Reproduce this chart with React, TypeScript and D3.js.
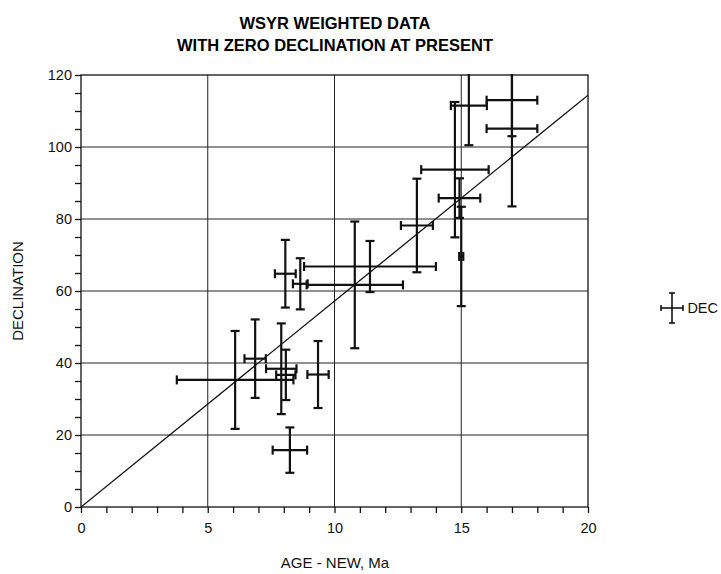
import { useEffect, useRef } from 'react'
import * as d3 from 'd3'

// age (Ma), declination, age error, declination error
const ages = [6.08, 6.87, 7.9, 8.08, 8.24, 9.35, 8.06, 8.65, 10.8, 11.4, 13.25, 14.75, 14.93, 15.0, 15.3, 17.0, 17.0]
const decs = [35.3, 41.2, 38.4, 36.7, 15.8, 36.8, 64.8, 62.0, 61.7, 66.8, 78.2, 93.7, 85.8, 69.6, 111.5, 113.0, 105.1]
const ageErr = [2.3, 0.42, 0.6, 0.38, 0.68, 0.42, 0.41, 0.29, 1.9, 2.6, 0.63, 1.33, 0.82, 0.08, 0.71, 1.0, 1.0]
const decErr = [13.6, 10.9, 12.6, 7.0, 6.3, 9.3, 9.4, 7.1, 17.6, 7.1, 13.0, 18.8, 5.5, 13.8, 11.0, 10.0, 21.6]

const fitSlope = 5.72
const xTicks = [0, 5, 10, 15, 20]
const yTicks = [0, 20, 40, 60, 80, 100, 120]
const titleLines = ['WSYR WEIGHTED DATA', 'WITH ZERO DECLINATION AT PRESENT']

const W = 721
const H = 574
const FONT = 'Liberation Sans, Arial, Helvetica, sans-serif'

function App() {
  const svgRef = useRef<SVGSVGElement>(null)

  useEffect(() => {
    if (!svgRef.current) return
    const svg = d3.select(svgRef.current)
    svg.selectAll('*').remove()

    const left = 81
    const right = 588
    const top = 75
    const bottom = 507

    const x = d3.scaleLinear().domain([0, 20]).range([left, right])
    const y = d3.scaleLinear().domain([0, 120]).range([bottom, top])

    svg.append('defs').append('clipPath').attr('id', 'plot-clip')
      .append('rect').attr('x', left).attr('y', top - 1).attr('width', right - left).attr('height', bottom - top + 2)

    // title
    svg.append('g').selectAll('text').data(titleLines).enter().append('text')
      .attr('x', 335).attr('y', (d, i) => 29 + i * 22)
      .attr('text-anchor', 'middle')
      .attr('font-family', FONT).attr('font-weight', 'bold').attr('font-size', 16.5)
      .text((d) => d)

    // grid
    const grid = svg.append('g').attr('stroke', '#222').attr('stroke-width', 1)
    grid.selectAll('.hg').data(yTicks.slice(1, -1)).enter().append('line')
      .attr('x1', left).attr('x2', right).attr('y1', (d) => y(d)).attr('y2', (d) => y(d))
    grid.selectAll('.vg').data(xTicks.slice(1, -1)).enter().append('line')
      .attr('y1', top).attr('y2', bottom).attr('x1', (d) => x(d)).attr('x2', (d) => x(d))

    // frame
    svg.append('rect').attr('x', left).attr('y', top).attr('width', right - left).attr('height', bottom - top)
      .attr('fill', 'none').attr('stroke', '#111').attr('stroke-width', 1.3)

    // axes
    const xAxis = svg.append('g').attr('transform', `translate(0,${bottom})`)
      .call(d3.axisBottom(x).tickValues(d3.range(0, 21, 1)).tickSize(6).tickFormat((d) => (xTicks.includes(+d) ? String(d) : '')))
    xAxis.select('.domain').remove()
    xAxis.selectAll('line').attr('stroke', '#111').attr('stroke-width', 1.3)
    xAxis.selectAll('text').attr('font-family', FONT).attr('font-size', 14.5).attr('fill', '#111').attr('dy', '1.2em')

    const yAxis = svg.append('g').attr('transform', `translate(${left},0)`)
      .call(d3.axisLeft(y).tickValues(d3.range(0, 121, 5)).tickSize(6).tickFormat((d) => (yTicks.includes(+d) ? String(d) : '')))
    yAxis.select('.domain').remove()
    yAxis.selectAll('line').attr('stroke', '#111').attr('stroke-width', 1.3)
    yAxis.selectAll('text').attr('font-family', FONT).attr('font-size', 14.5).attr('fill', '#111').attr('x', -9)

    // axis titles
    svg.append('text').attr('x', 335).attr('y', 568).attr('text-anchor', 'middle')
      .attr('font-family', FONT).attr('font-size', 15).attr('fill', '#111').text('AGE - NEW, Ma')
    svg.append('text').attr('transform', `translate(23,${(top + bottom) / 2}) rotate(-90)`).attr('text-anchor', 'middle')
      .attr('font-family', FONT).attr('font-size', 15).attr('fill', '#111').text('DECLINATION')

    // regression line
    const plot = svg.append('g').attr('clip-path', 'url(#plot-clip)')
    plot.append('path')
      .datum([0, 20])
      .attr('d', d3.line<number>().x((d) => x(d)).y((d) => y(d * fitSlope)))
      .attr('fill', 'none').attr('stroke', '#111').attr('stroke-width', 1.3)

    // error bars
    const cap = 4.5
    const bars = plot.selectAll('.eb').data(ages.map((a, i) => i)).enter().append('g')
      .attr('stroke', '#111').attr('stroke-width', 2.2)
    bars.append('line')
      .attr('x1', (i) => x(ages[i] - ageErr[i])).attr('x2', (i) => x(ages[i] + ageErr[i]))
      .attr('y1', (i) => y(decs[i])).attr('y2', (i) => y(decs[i]))
    bars.append('line')
      .attr('x1', (i) => x(ages[i])).attr('x2', (i) => x(ages[i]))
      .attr('y1', (i) => y(decs[i] - decErr[i])).attr('y2', (i) => y(decs[i] + decErr[i]))
    ;[-1, 1].forEach((s) => {
      bars.append('line')
        .attr('x1', (i) => x(ages[i] + s * ageErr[i])).attr('x2', (i) => x(ages[i] + s * ageErr[i]))
        .attr('y1', (i) => y(decs[i]) - cap).attr('y2', (i) => y(decs[i]) + cap)
      bars.append('line')
        .attr('x1', (i) => x(ages[i]) - cap).attr('x2', (i) => x(ages[i]) + cap)
        .attr('y1', (i) => y(decs[i] + s * decErr[i])).attr('y2', (i) => y(decs[i] + s * decErr[i]))
    })

    // legend
    const lg = svg.append('g').attr('transform', 'translate(672,308)').attr('stroke', '#111').attr('stroke-width', 1.6)
    lg.append('line').attr('x1', -11).attr('x2', 11).attr('y1', 0).attr('y2', 0)
    lg.append('line').attr('x1', 0).attr('x2', 0).attr('y1', -15).attr('y2', 15)
    lg.append('line').attr('x1', -11).attr('x2', -11).attr('y1', -3).attr('y2', 3)
    lg.append('line').attr('x1', 11).attr('x2', 11).attr('y1', -3).attr('y2', 3)
    lg.append('line').attr('x1', -3).attr('x2', 3).attr('y1', -15).attr('y2', -15)
    lg.append('line').attr('x1', -3).attr('x2', 3).attr('y1', 15).attr('y2', 15)
    svg.append('text').attr('x', 718).attr('y', 313).attr('text-anchor', 'end')
      .attr('font-family', FONT).attr('font-size', 14.5).attr('fill', '#111').text('DEC')
  }, [])

  return (
    <svg ref={svgRef} width={W} height={H} style={{ position: 'absolute', left: 0, top: 0, background: '#fff' }} />
  )
}

export default App
